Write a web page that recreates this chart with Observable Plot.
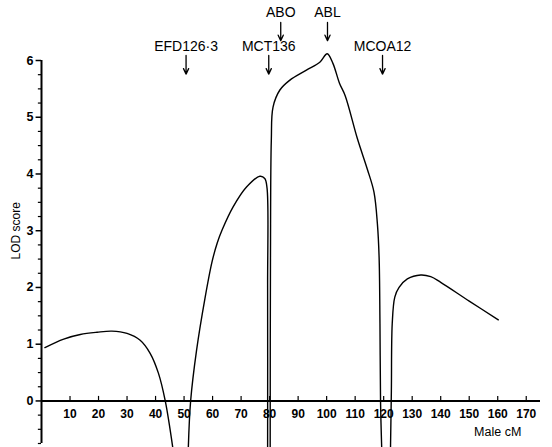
<!DOCTYPE html>
<html><head><meta charset="utf-8">
<script src="https://cdn.jsdelivr.net/npm/d3@7"></script>
<script src="https://cdn.jsdelivr.net/npm/@observablehq/plot@0.6"></script>
<style>body{margin:0;background:#fff} svg{display:block}</style>
</head><body><div id="chart"></div>
<script>
// LOD score curve, drawn as four separate pieces (it runs off the bottom between them)
const seg1X = [1.2, 7.8, 13.6, 19.5, 24.7, 30, 34.6, 38.1, 41, 43.4, 46];
const seg1Y = [0.94, 1.09, 1.17, 1.21, 1.23, 1.19, 1.07, 0.84, 0.49, 0, -0.81];
const seg2X = [51.5, 52.3, 54.4, 57.3, 59.8, 61.6, 63.4, 67.2, 71.9, 76.6, 78.3, 79.1, 79.3, 79.3];
const seg2Y = [-0.81, 0, 0.9, 1.8, 2.45, 2.78, 3.02, 3.42, 3.77, 3.96, 3.92, 3.75, 2.0, -0.81];
const seg3X = [80.2, 80.3, 80.6, 81.2, 83.6, 87, 92.9, 97.6, 100.2, 102.2, 104.5, 106.5, 110.8, 114.3, 116.6, 117.8, 118.4, 118.7, 118.9, 119.3];
const seg3Y = [-0.81, 2.5, 4.6, 5.18, 5.48, 5.65, 5.83, 5.97, 6.12, 5.95, 5.6, 5.38, 4.62, 4.08, 3.68, 3.12, 2.53, 1.36, 0, -0.81];
const seg4X = [122.4, 122.7, 123, 123.9, 125.4, 128.3, 133, 136.5, 140, 150, 160.2];
const seg4Y = [-0.81, 0.18, 1.36, 1.83, 2.0, 2.15, 2.22, 2.19, 2.09, 1.76, 1.43];

// marker loci
const markerNames = ["EFD126\u00b73", "MCT136", "ABO", "ABL", "MCOA12"];
const markerPos = [50.7, 79.7, 83.9, 100.3, 119.6];
const markerUpper = [false, false, true, true, false];

// axes
const xTicks = [10, 20, 30, 40, 50, 60, 70, 80, 90, 100, 110, 120, 130, 140, 150, 160, 170];
const yTicks = [0, 1, 2, 3, 4, 5, 6];
const yMinor = [-0.75, -0.5, -0.25, 0.25, 0.5, 0.75, 1.25, 1.5, 1.75, 2.25, 2.5, 2.75, 3.25, 3.5, 3.75, 4.25, 4.5, 4.75, 5.25, 5.5, 5.75];
const xTitle = "Male cM";
const yTitle = "LOD score";

const segs = [[seg1X, seg1Y], [seg2X, seg2Y], [seg3X, seg3Y], [seg4X, seg4Y]];
const curve = segs.flatMap(([xs, ys], s) => xs.map((x, i) => ({seg: s, x, y: ys[i]})));
const markers = markerNames.map((name, i) => ({name, x: markerPos[i], upper: markerUpper[i]}));

const font = "Liberation Sans, Arial, Helvetica, sans-serif";

const plot = Plot.plot({
  width: 552,
  height: 447,
  marginLeft: 41,
  marginRight: 12,
  marginTop: 60,
  marginBottom: 4,
  style: {fontFamily: font, background: "#fff", color: "#000"},
  x: {domain: [0, 175], axis: null},
  y: {domain: [-0.75, 6], axis: null},
  marks: [
    // axis lines
    Plot.ruleY([0], {x1: 0, x2: 175, stroke: "#000", strokeWidth: 2}),
    Plot.ruleX([0], {y1: -0.75, y2: 6, stroke: "#000", strokeWidth: 2}),
    // y ticks (pointing left)
    Plot.ruleY(yTicks, {y: d => d, x1: -1.9, x2: 0, stroke: "#000", strokeWidth: 1.5}),
    Plot.ruleY(yMinor, {y: d => d, x1: -1.1, x2: 0, stroke: "#000", strokeWidth: 1.2}),
    Plot.text(yTicks, {x: 0, y: d => d, dx: -8, textAnchor: "end", text: d => String(d), fontSize: 12.5, fontWeight: "bold"}),
    // x ticks at y = 0 (pointing up)
    Plot.ruleX(xTicks, {x: d => d, y1: 0, y2: 0.08, stroke: "#000", strokeWidth: 1.2}),
    Plot.text(xTicks, {x: d => d, y: 0, dy: 13, text: d => String(d), fontSize: 12, fontWeight: "bold"}),
    Plot.text([xTitle], {x: 160, y: 0, dy: 31, text: d => d, fontSize: 12.5}),
    Plot.text([yTitle], {x: 0, y: 3, dx: -25, rotate: -90, text: d => d, fontSize: 12}),
    // LOD curve
    Plot.line(curve, {x: "x", y: "y", z: "seg", stroke: "#000", strokeWidth: 1.4, curve: "catmull-rom"}),
    // marker arrows and labels
    Plot.arrow(markers, {
      x1: "x", x2: "x",
      y1: d => d.upper ? 6.67 : 6.09,
      y2: d => d.upper ? 6.35 : 5.76,
      stroke: "#000", strokeWidth: 1.3, headLength: 7, headAngle: 50
    }),
    Plot.text(markers, {x: "x", y: d => d.upper ? 6.85 : 6.24, text: "name", fontSize: 14})
  ]
});
document.getElementById("chart").append(plot);
</script>
</body></html>
